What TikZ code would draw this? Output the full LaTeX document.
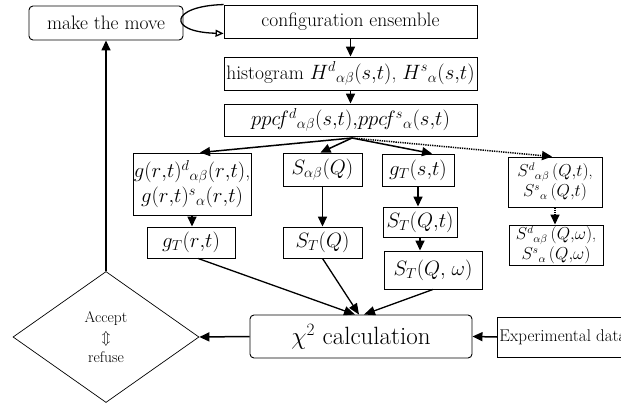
\documentclass[tikz,border=0pt]{standalone}
\usepackage{fontspec}
\usetikzlibrary{arrows.meta,shapes.geometric,calc}
\newcommand\cm{{,}}
\begin{document}
\begin{tikzpicture}[x=1pt,y=-1pt,
  box/.style={draw,line width=0.9pt,inner sep=0pt,align=center,font=\fontsize{19.5}{23}\selectfont},
  sbox/.style={box,font=\fontsize{16}{20}\selectfont},
  rbox/.style={box,rounded corners=4pt},
  arr/.style={line width=1.5pt,-{Triangle[length=10pt,width=9pt]}},
  darr/.style={arr,dash pattern=on 1.3pt off 1pt},
  conn/.style={line width=1.3pt,-{Triangle[length=11pt,width=9pt]}}
]
\clip (0,0) rectangle (621,406);
\fill[white] (0,0) rectangle (621,406);

\node[rbox,minimum width=154,minimum height=34] (move) at (106,23) {make the move};
\node[box,minimum width=253,minimum height=33] (conf) at (350.5,21.5) {configuration ensemble};
\node[box,minimum width=253,minimum height=33] (hist) at (350.5,73.5)
  {histogram $H^{d}{}_{\alpha\beta}(s\cm t)$, $H^{s}{}_{\alpha}(s\cm t)$};
\node[box,minimum width=253,minimum height=32] (ppcf) at (350.5,120)
  {$ppc\!f^{d}{}_{\alpha\beta}(s\cm t)\cm ppc\!f^{s}{}_{\alpha}(s\cm t)$};

\node[box,minimum width=118,minimum height=62,font=\fontsize{19.5}{25}\selectfont] (gr) at (192,184)
  {$g(r\cm t)^{d}{}_{\alpha\beta}(r\cm t)$,\\$g(r\cm t)^{s}{}_{\alpha}(r\cm t)$};
\node[box,minimum width=79,minimum height=33] (Sab) at (322.5,169.5) {$S_{\alpha\beta}(Q)$};
\node[box,minimum width=72,minimum height=32] (gTs) at (418,170) {$g_{T}(s\cm t)$};
\node[sbox,minimum width=94,minimum height=50] (Sdt) at (555,182)
  {$S^{d}{}_{\alpha\beta}\,(Q\cm t)$,\\$S^{s}{}_{\alpha}\,(Q\cm t)$};

\node[box,minimum width=88,minimum height=31] (gTr) at (191,242.5) {$g_{T}(r\cm t)$};
\node[box,minimum width=79,minimum height=31] (STQ) at (322.5,242.5) {$S_{T}(Q)$};
\node[box,minimum width=74,minimum height=30] (STQt) at (420,222) {$S_{T}(Q\cm t)$};
\node[box,minimum width=98,minimum height=38] (STQw) at (433,270) {$S_{T}(Q\cm\ \omega)$};
\node[sbox,minimum width=94,minimum height=40] (Sdw) at (556,245)
  {$S^{d}{}_{\alpha\beta}\,(Q\cm\omega)$,\\$S^{s}{}_{\alpha}\,(Q\cm\omega)$};

\node[rbox,minimum width=222,minimum height=43,font=\fontsize{25}{30}\selectfont] (chi) at (361,336.5)
  {$\chi^{2}$ calculation};
\node[box,anchor=west,minimum height=40,inner xsep=2pt,font=\fontsize{17}{20}\selectfont] (exp) at (497,337)
  {Experimental data\hspace{20pt}};
\node[draw,diamond,line width=0.7pt,minimum width=186,minimum height=131,inner sep=0pt,align=center,
  font=\fontsize{15.5}{19}\selectfont] (dia) at (106,337) {Accept\\[1pt]$\Updownarrow$\\[1pt]refuse};

% loop
\draw[line width=1.3pt,-{Triangle[open,length=8pt,width=7pt]}] (conf.north west) .. controls (170,6) and (166,32) .. ($(conf.south west)+(0,-5)$);

\draw[arr] (conf) -- (hist);
\draw[arr] (hist) -- (ppcf);
\coordinate (fan) at (352,138);
\draw[arr] (fan) -- ([xshift=8pt]gr.north);
\draw[arr] (fan) -- ([xshift=-2pt]Sab.north);
\draw[arr] (fan) -- ([xshift=14pt]gTs.north);
\draw[darr] (fan) -- ([xshift=-3pt]Sdt.north);

\draw[arr] (gr) -- (gr.south |- gTr.north);
\draw[arr] (Sab) -- (STQ);
\draw[arr] (gTs) -- (gTs.south |- STQt.north);
\draw[arr] (STQt) -- (STQt.south |- STQw.north);
\draw[darr] (Sdt) -- (Sdt.south |- Sdw.north);

\draw[conn] ([xshift=7pt]gTr.south) -- ([xshift=-6pt]chi.north);
\draw[conn] (STQ.south) -- ([xshift=-2pt]chi.north);
\draw[conn] (STQw.south) -- ([xshift=3pt]chi.north);

\draw[arr] (exp.west) -- (chi.east);
\draw[arr] (chi.west) -- (dia.east);
\draw[arr] (dia.north) -- (move.south);
\end{tikzpicture}
\end{document}
